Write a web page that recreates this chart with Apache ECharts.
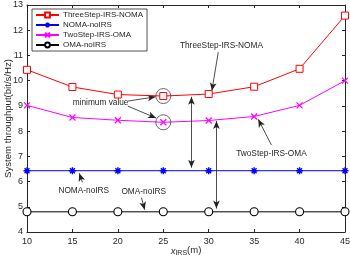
<!DOCTYPE html>
<html>
<head>
<meta charset="utf-8">
<script src="https://cdn.jsdelivr.net/npm/echarts@6/dist/echarts.min.js"></script>
<style>html,body{margin:0;padding:0;background:#fff}#c{width:350px;height:264px}</style>
</head>
<body>
<div id="c"></div>
<script>
const xValues = [10, 15, 20, 25, 30, 35, 40, 45];
const threeStepNoma = [10.43, 9.75, 9.45, 9.39, 9.47, 9.76, 10.47, 12.58];
const nomaNoIrs = [6.43, 6.43, 6.43, 6.43, 6.43, 6.43, 6.43, 6.43];
const twoStepOma = [9.02, 8.54, 8.43, 8.35, 8.42, 8.58, 9.02, 10.0];
const omaNoIrs = [4.8, 4.8, 4.8, 4.8, 4.8, 4.8, 4.8, 4.8];
const seriesNames = ['ThreeStep-IRS-NOMA', 'NOMA-noIRS', 'TwoStep-IRS-OMA', 'OMA-noIRS'];
const xTicks = [10, 15, 20, 25, 30, 35, 40, 45];
const yTicks = [4, 5, 6, 7, 8, 9, 10, 11, 12, 13];

// annotation anchors in data coordinates
const minCircles = [[25, 9.39], [25, 8.35]];
const textNotes = [
  {text: 'minimum value', at: [18.1, 9.12]},
  {text: 'ThreeStep-IRS-NOMA', at: [31.4, 11.37]},
  {text: 'TwoStep-IRS-OMA', at: [36.9, 7.12]},
  {text: 'NOMA-noIRS', at: [16.25, 5.63]},
  {text: 'OMA-noIRS', at: [22.85, 5.59]}
];
const singleArrows = [
  [[21.1, 9.19], [24.15, 9.36]],
  [[21.1, 8.99], [24.2, 8.52]],
  [[31.05, 11.13], [30.35, 9.6]],
  [[36.9, 7.45], [35.45, 8.47]],
  [[16.1, 5.97], [15.75, 6.33]],
  [[22.6, 5.36], [22.95, 4.88]]
];
const doubleArrows = [
  [[28.1, 9.36], [28.1, 6.55]],
  [[30.85, 8.4], [30.85, 4.93]]
];

const FONT = 'Liberation Sans, Arial, sans-serif';
const AX = '#262626';
const pair = (xs, ys) => xs.map((x, i) => [x, ys[i]]);
const starPath = 'path://M0 -10 L0 10 M-10 0 L10 0 M-7 -7 L7 7 M-7 7 L7 -7';
const xPath = 'path://M-10 -10 L10 10 M-10 10 L10 -10';

const chart = echarts.init(document.getElementById('c'), null, {renderer: 'canvas'});

const axisCommon = {
  axisLine: {show: true, lineStyle: {color: AX, width: 1}},
  axisTick: {show: true, inside: true, length: 3, lineStyle: {color: AX}},
  splitLine: {show: false},
  nameMoveOverlap: false
};

const option = {
  animation: false,
  textStyle: {fontFamily: FONT},
  grid: {left: 27, right: 5, top: 5, bottom: 32, containLabel: false, outerBoundsMode: 'none'},
  legend: {
    data: seriesNames,
    orient: 'vertical',
    left: 32, top: 9,
    backgroundColor: '#fff',
    borderColor: AX, borderWidth: 0.8, borderRadius: 0,
    padding: [2, 4, 2, 3],
    itemGap: 2,
    itemWidth: 23, itemHeight: 6,
    textStyle: {fontSize: 8, color: AX, fontFamily: FONT, padding: [0, 0, 0, -1]}
  },
  xAxis: [
    Object.assign({
      type: 'value', min: 10, max: 45, interval: 5, position: 'bottom',
      name: '{i|x}{s|IRS}{n|(m)}', nameLocation: 'middle', nameGap: 13,
      nameTextStyle: {rich: {
        i: {fontStyle: 'italic', fontSize: 9.5, color: AX, fontFamily: FONT},
        s: {fontSize: 7, color: AX, fontFamily: FONT, padding: [5, 0, 0, 0]},
        n: {fontSize: 9.5, color: AX, fontFamily: FONT, padding: [-2, 0, 0, 0]}
      }},
      axisLabel: {fontSize: 9, color: AX, margin: 5, fontFamily: FONT}
    }, axisCommon),
    Object.assign({
      type: 'value', min: 10, max: 45, interval: 5, position: 'top',
      axisLabel: {show: false}
    }, axisCommon)
  ],
  yAxis: [
    Object.assign({
      type: 'value', min: 4, max: 13, interval: 1, position: 'left',
      name: 'System throughput(bit/s/Hz)', nameLocation: 'middle', nameGap: 14,
      nameTextStyle: {fontSize: 9.6, color: AX, fontFamily: FONT},
      axisLabel: {fontSize: 9, color: AX, margin: 4, fontFamily: FONT}
    }, axisCommon),
    Object.assign({
      type: 'value', min: 4, max: 13, interval: 1, position: 'right',
      axisLabel: {show: false}
    }, axisCommon)
  ],
  series: [
    {
      name: seriesNames[0], type: 'line', data: pair(xValues, threeStepNoma),
      symbol: 'rect', symbolSize: 7, showAllSymbol: true,
      itemStyle: {color: '#fff', borderColor: '#ff0000', borderWidth: 1},
      lineStyle: {color: '#ff0000', width: 1},
      color: '#ff0000', z: 5,
      markPoint: {
        silent: true, animation: false,
        symbol: 'circle', symbolSize: 15,
        itemStyle: {color: 'rgba(0,0,0,0)', borderColor: '#444', borderWidth: 0.8},
        label: {show: false},
        data: minCircles.map(c => ({coord: c}))
      },
      markLine: {
        silent: true, animation: false,
        symbol: ['none', 'arrow'], symbolSize: [5, 8],
        label: {show: false},
        lineStyle: {color: '#222', width: 0.8, type: 'solid'},
        emphasis: {disabled: true},
        data: singleArrows.map(a => [{coord: a[0]}, {coord: a[1]}])
      }
    },
    {
      name: seriesNames[1], type: 'line', data: pair(xValues, nomaNoIrs),
      symbol: starPath, symbolSize: 7, showAllSymbol: true,
      itemStyle: {color: 'rgba(0,0,0,0)', borderColor: '#0000ff', borderWidth: 1.4},
      lineStyle: {color: '#0000ff', width: 1},
      color: '#0000ff',
      markLine: {
        silent: true, animation: false,
        symbol: ['arrow', 'arrow'], symbolSize: [5, 8],
        label: {show: false},
        lineStyle: {color: '#222', width: 0.8, type: 'solid'},
        emphasis: {disabled: true},
        data: doubleArrows.map(a => [{coord: a[0]}, {coord: a[1]}])
      }
    },
    {
      name: seriesNames[2], type: 'line', data: pair(xValues, twoStepOma),
      symbol: xPath, symbolSize: 6, showAllSymbol: true,
      itemStyle: {color: 'rgba(0,0,0,0)', borderColor: '#ff00ff', borderWidth: 1.2},
      lineStyle: {color: '#ff00ff', width: 1},
      color: '#ff00ff',
      markPoint: {
        silent: true, animation: false,
        symbol: 'circle', symbolSize: 0,
        label: {show: true, position: 'inside', fontSize: 8.3, color: AX, fontFamily: FONT,
                formatter: p => p.name},
        data: textNotes.map(t => ({name: t.text, coord: t.at}))
      }
    },
    {
      name: seriesNames[3], type: 'line', data: pair(xValues, omaNoIrs),
      symbol: 'circle', symbolSize: 8, showAllSymbol: true,
      itemStyle: {color: '#fff', borderColor: '#000', borderWidth: 1.1},
      lineStyle: {color: '#000', width: 1},
      color: '#000'
    }
  ]
};
chart.setOption(option);
</script>
</body>
</html>
